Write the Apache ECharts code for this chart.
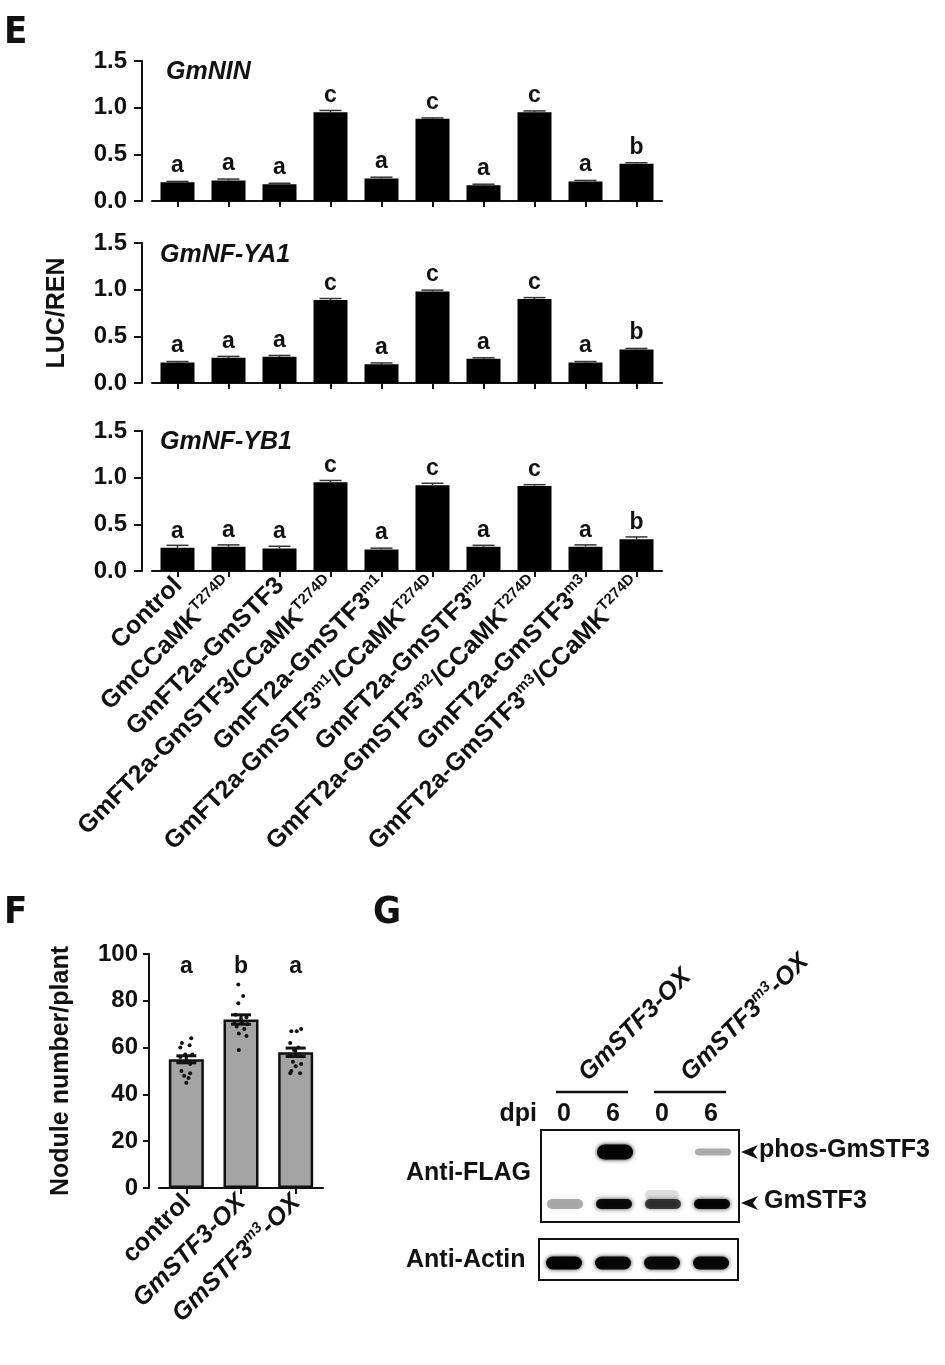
<!DOCTYPE html>
<html><head><meta charset="utf-8">
<script src="https://cdn.jsdelivr.net/npm/echarts@6.0.0/dist/echarts.min.js"></script>
<style>html,body{margin:0;padding:0;background:#fff}#c{width:945px;height:1365px}</style>
</head><body><div id="c"></div>
<script>
// ---------- DATA ----------
const categoriesE = [
  'Control',
  'GmCCaMK^T274D',
  'GmFT2a-GmSTF3',
  'GmFT2a-GmSTF3/CCaMK^T274D',
  'GmFT2a-GmSTF3^m1',
  'GmFT2a-GmSTF3^m1^/CCaMK^T274D',
  'GmFT2a-GmSTF3^m2',
  'GmFT2a-GmSTF3^m2^/CCaMK^T274D',
  'GmFT2a-GmSTF3^m3',
  'GmFT2a-GmSTF3^m3^/CCaMK^T274D'
];
const panelNamesE = ['GmNIN', 'GmNF-YA1', 'GmNF-YB1'];
const ninValues  = [0.20, 0.22, 0.18, 0.95, 0.24, 0.88, 0.17, 0.95, 0.21, 0.40];
const ninErr     = [0.01, 0.015, 0.01, 0.02, 0.015, 0.01, 0.01, 0.015, 0.01, 0.01];
const ya1Values  = [0.22, 0.27, 0.28, 0.89, 0.20, 0.98, 0.26, 0.90, 0.22, 0.36];
const ya1Err     = [0.01, 0.015, 0.015, 0.015, 0.015, 0.015, 0.01, 0.015, 0.01, 0.01];
const yb1Values  = [0.25, 0.26, 0.24, 0.95, 0.23, 0.92, 0.26, 0.91, 0.26, 0.34];
const yb1Err     = [0.025, 0.02, 0.025, 0.02, 0.015, 0.02, 0.015, 0.015, 0.02, 0.025];
const lettersE   = ['a', 'a', 'a', 'c', 'a', 'c', 'a', 'c', 'a', 'b'];
const yTicksE    = [0, 0.5, 1.0, 1.5];

const categoriesF = ['control', 'GmSTF3-OX', 'GmSTF3^m3^-OX'];
const noduleMeans = [55, 72, 58];
const noduleErr   = [1.5, 2.0, 1.8];
const lettersF    = ['a', 'b', 'a'];
const yTicksF     = [0, 20, 40, 60, 80, 100];
const dotsControl = [64, 62, 61, 60, 57, 57, 56, 54, 53, 50, 49, 48, 47, 45];
const jitControl  = [0.09, -0.08, 0.06, -0.11, -0.02, 0.11, -0.11, -0.05, 0.07, -0.09, 0.07, -0.04, 0.04, 0];
const dotsOX      = [87, 82, 79, 74, 73, 72, 71, 71, 70, 69, 68, 66, 65, 59];
const jitOX       = [-0.05, 0.04, -0.05, -0.1, 0.1, 0, -0.12, 0.02, 0.12, -0.08, 0.06, -0.04, 0.1, -0.04];
const dotsM3      = [68, 67, 67, 62, 60, 59, 57, 57, 54, 53, 52, 50, 49, 49];
const jitM3       = [0.1, -0.08, 0.02, -0.1, 0.05, -0.03, -0.1, 0.08, -0.05, 0.1, 0, -0.08, -0.1, 0.08];

// western blot (panel G)
const blotGroups   = ['GmSTF3-OX', 'GmSTF3^m3^-OX'];
const blotDpi      = ['0', '6', '0', '6'];
const phosBand     = [0, 1.0, 0, 0.3];
const stf3Band     = [0.3, 0.9, 0.7, 0.95];
const actinBand    = [0.95, 0.92, 0.9, 0.92];

// ---------- HELPERS ----------
const FONT = "'Liberation Sans', Arial, Helvetica, sans-serif";
const NARROW = "'Liberation Sans Narrow', 'DejaVu Sans Condensed', 'Liberation Sans', sans-serif";
function toRich(s, base, sup) {
  return s.split('^').map((p, i) => p ? ('{' + (i % 2 ? sup : base) + '|' + p + '}') : '').join('');
}
function errorBar(capW, lw, both, color) {
  return function (params, api) {
    const x = api.value(0), v = api.value(1), e = api.value(2);
    const hi = api.coord([x, v + e]);
    const lo = api.coord([x, both ? v - e : v]);
    const h = capW / 2;
    const st = { stroke: color, lineWidth: lw };
    const ch = [
      { type: 'line', shape: { x1: hi[0], y1: hi[1], x2: lo[0], y2: lo[1] }, style: st },
      { type: 'line', shape: { x1: hi[0] - h, y1: hi[1], x2: hi[0] + h, y2: hi[1] }, style: st }
    ];
    if (both) ch.push({ type: 'line', shape: { x1: lo[0] - h, y1: lo[1], x2: lo[0] + h, y2: lo[1] }, style: st });
    return { type: 'group', children: ch };
  };
}

const chart = echarts.init(document.getElementById('c'), null, { renderer: 'canvas' });

const gridTopsE = [61, 243, 431];
const valuesE = [ninValues, ya1Values, yb1Values];
const errsE = [ninErr, ya1Err, yb1Err];

const richE = {
  n: { fontFamily: FONT, fontWeight: 'bold', fontSize: 25, color: '#111', lineHeight: 27, verticalAlign: 'bottom' },
  s: { fontFamily: FONT, fontWeight: 'bold', fontSize: 15, color: '#111', lineHeight: 15, verticalAlign: 'top' }
};
const richF = {
  n: { fontFamily: FONT, fontWeight: 'bold', fontSize: 25, color: '#111', lineHeight: 27, verticalAlign: 'bottom' },
  i: { fontFamily: FONT, fontWeight: 'bold', fontStyle: 'italic', fontSize: 25, color: '#111', lineHeight: 27, verticalAlign: 'bottom' },
  s: { fontFamily: FONT, fontWeight: 'bold', fontStyle: 'italic', fontSize: 15, color: '#111', lineHeight: 15, verticalAlign: 'top' }
};

const axisLineStyle = { color: '#111', width: 2 };

const grids = gridTopsE.map(t => ({ left: 152, top: t, width: 510, height: 140, outerBoundsMode: 'none', containLabel: false }));
grids.push({ left: 159, top: 954, width: 164, height: 234, outerBoundsMode: 'none', containLabel: false });

const xAxes = gridTopsE.map((t, i) => ({
  type: 'category', gridIndex: i, data: categoriesE,
  axisLine: { lineStyle: axisLineStyle },
  axisTick: { show: true, alignWithLabel: true, length: 6, lineStyle: axisLineStyle },
  axisLabel: {
    show: i === 2, rotate: 45, interval: 0, margin: 10,
    formatter: v => toRich(v, 'n', 's'), rich: richE
  }
}));
xAxes.push({
  type: 'category', gridIndex: 3, data: categoriesF,
  axisLine: { lineStyle: axisLineStyle },
  axisTick: { show: true, alignWithLabel: true, length: 6, lineStyle: axisLineStyle },
  axisLabel: {
    rotate: 45, interval: 0, margin: 10,
    formatter: (v, idx) => toRich(v, idx === 0 ? 'n' : 'i', 's'), rich: richF
  }
});
xAxes.push({ type: 'value', gridIndex: 3, min: -0.5, max: 2.5, show: false });

const yAxes = gridTopsE.map((t, i) => ({
  type: 'value', gridIndex: i, min: yTicksE[0], max: yTicksE[yTicksE.length - 1], interval: 0.5, offset: 10,
  axisLine: { show: true, onZero: false, lineStyle: axisLineStyle },
  axisTick: { show: true, length: 8, lineStyle: axisLineStyle },
  splitLine: { show: false },
  axisLabel: { formatter: v => v.toFixed(1), fontFamily: FONT, fontWeight: 'bold', fontSize: 24, color: '#111', margin: 15 },
  name: i === 1 ? 'LUC/REN' : '', nameLocation: 'middle', nameRotate: 90, nameGap: 72,
  nameTextStyle: { fontFamily: FONT, fontWeight: 'bold', fontSize: 25, color: '#111' }
}));
yAxes.push({
  type: 'value', gridIndex: 3, min: yTicksF[0], max: yTicksF[yTicksF.length - 1], interval: 20, offset: 10,
  axisLine: { show: true, onZero: false, lineStyle: axisLineStyle },
  axisTick: { show: true, length: 6, lineStyle: axisLineStyle },
  splitLine: { show: false },
  axisLabel: { fontFamily: FONT, fontWeight: 'bold', fontSize: 24, color: '#111', margin: 11 },
  name: 'Nodule number/plant', nameLocation: 'middle', nameRotate: 90, nameGap: 75,
  nameTextStyle: { fontFamily: FONT, fontWeight: 'bold', fontSize: 25, color: '#111' }
});

const series = [];
valuesE.forEach((vals, i) => {
  series.push({
    type: 'bar', xAxisIndex: i, yAxisIndex: i, data: vals, barWidth: 34,
    itemStyle: { color: '#000' },
    label: {
      show: true, position: 'top', distance: 5,
      formatter: p => lettersE[p.dataIndex],
      fontFamily: FONT, fontWeight: 'bold', fontSize: 23, color: '#111'
    },
    z: 2
  });
  series.push({
    type: 'custom', xAxisIndex: i, yAxisIndex: i,
    data: vals.map((v, k) => [k, v, errsE[i][k]]),
    renderItem: errorBar(22, 1.5, false, '#333'), z: 3
  });
});
// panel F
series.push({
  type: 'bar', xAxisIndex: 3, yAxisIndex: 3, data: noduleMeans, barWidth: 35,
  itemStyle: { color: '#a4a4a4', borderColor: '#111', borderWidth: 2.5 }, z: 2
});
const dotSets = [[dotsControl, jitControl], [dotsOX, jitOX], [dotsM3, jitM3]];
const dotData = [];
dotSets.forEach(([vals, jit], k) => vals.forEach((v, j) => dotData.push([k + jit[j], v])));
series.push({
  type: 'scatter', xAxisIndex: 4, yAxisIndex: 3, data: dotData,
  symbol: 'circle', symbolSize: 4, itemStyle: { color: '#111', opacity: 1 }, z: 4
});
series.push({
  type: 'custom', xAxisIndex: 3, yAxisIndex: 3,
  data: noduleMeans.map((v, k) => [k, v, noduleErr[k]]),
  renderItem: errorBar(20, 3, true, '#111'), z: 5
});
const letterLevelF = 94.5;
series.push({
  type: 'scatter', xAxisIndex: 3, yAxisIndex: 3,
  data: lettersF.map((l, k) => [k, letterLevelF]), symbol: 'circle', symbolSize: 1,
  itemStyle: { color: 'rgba(0,0,0,0)', opacity: 1 },
  label: { show: true, position: 'inside', formatter: p => lettersF[p.dataIndex],
    fontFamily: FONT, fontWeight: 'bold', fontSize: 23, color: '#111', opacity: 1 },
  z: 6
});

// ---------- graphics: panel letters, titles, western blot ----------
const g = [];
function txt(x, y, text, font, align, valign, extra) {
  return Object.assign({
    type: 'text', x: x, y: y,
    style: { text: text, x: 0, y: 0, font: font, fill: '#111',
      align: align, verticalAlign: valign, textAlign: align, textVerticalAlign: valign }
  }, extra || {});
}
g.push(txt(4, 33, 'E', 'bold 38px ' + NARROW, 'left', 'middle'));
g.push(txt(4, 913, 'F', 'bold 38px ' + NARROW, 'left', 'middle'));
g.push(txt(373, 913, 'G', 'bold 38px ' + NARROW, 'left', 'middle'));
const titleY = [72, 255, 442];
const titleX = [166, 160, 160];
panelNamesE.forEach((n, i) => g.push(txt(titleX[i], titleY[i], n, 'italic bold 25px ' + FONT, 'left', 'middle')));

// blot
const laneX = [564, 613, 662, 711];
const groupStart = [[592, 1086], [694, 1086]];
blotGroups.forEach((name, k) => {
  g.push({
    type: 'text', x: groupStart[k][0], y: groupStart[k][1], rotation: Math.PI / 4,
    style: {
      text: toRich(name, 'i', 's'), x: 0, y: 0, align: 'left', verticalAlign: 'bottom',
      textAlign: 'left', textVerticalAlign: 'bottom',
      rich: {
        i: { font: 'italic bold 25px ' + FONT, fill: '#111', lineHeight: 27, verticalAlign: 'bottom' },
        s: { font: 'italic bold 15px ' + FONT, fill: '#111', lineHeight: 15, verticalAlign: 'top' }
      }
    }
  });
  const x1 = laneX[2 * k] - 8, x2 = laneX[2 * k + 1] + 15;
  g.push({ type: 'line', shape: { x1: x1, y1: 1092, x2: x2, y2: 1092 }, style: { stroke: '#111', lineWidth: 2.5 } });
});
g.push(txt(537, 1114, 'dpi', 'bold 25px ' + FONT, 'right', 'middle'));
blotDpi.forEach((d, k) => g.push(txt(laneX[k], 1114, d, 'bold 25px ' + FONT, 'center', 'middle')));

// bands
function band(cx, cy, w, h, a, blur) {
  return {
    type: 'rect', shape: { x: cx - w / 2, y: cy - h / 2, width: w, height: h, r: h / 2 },
    style: { fill: 'rgba(0,0,0,' + a + ')', shadowBlur: blur, shadowColor: 'rgba(0,0,0,' + (a * 0.9) + ')' }
  };
}
phosBand.forEach((a, k) => { if (a > 0) g.push(band(laneX[k] + 2, 1152, 36, a > 0.5 ? 15 : 7, a, a > 0.5 ? 4 : 7)); });
stf3Band.forEach((a, k) => g.push(band(laneX[k] + 1, 1204, 36, 10, a, a < 0.5 ? 7 : 5)));
g.push(band(laneX[2], 1195, 34, 10, 0.12, 6));
actinBand.forEach((a, k) => g.push(band(laneX[k], 1263, 36, 13, a, 4)));

g.push({ type: 'rect', shape: { x: 541, y: 1130, width: 198, height: 92 }, style: { fill: 'none', stroke: '#111', lineWidth: 2 } });
g.push({ type: 'rect', shape: { x: 539, y: 1239, width: 199, height: 41 }, style: { fill: 'none', stroke: '#111', lineWidth: 2 } });

// arrowheads + labels
[[1152, 'phos-GmSTF3'], [1203, 'GmSTF3']].forEach(([y, t], k) => {
  g.push({ type: 'polygon', shape: { points: [[741, y], [758, y - 7], [753, y], [758, y + 7]] }, style: { fill: '#111' } });
  g.push(txt(k === 0 ? 759 : 764, y - 2, t, 'bold 25px ' + FONT, 'left', 'middle'));
});
g.push(txt(406, 1173, 'Anti-FLAG', 'bold 25px ' + FONT, 'left', 'middle'));
g.push(txt(406, 1260, 'Anti-Actin', 'bold 25px ' + FONT, 'left', 'middle'));

chart.setOption({
  backgroundColor: '#fff',
  animation: false,
  grid: grids,
  xAxis: xAxes,
  yAxis: yAxes,
  series: series,
  graphic: { elements: g }
});
</script></body></html>
